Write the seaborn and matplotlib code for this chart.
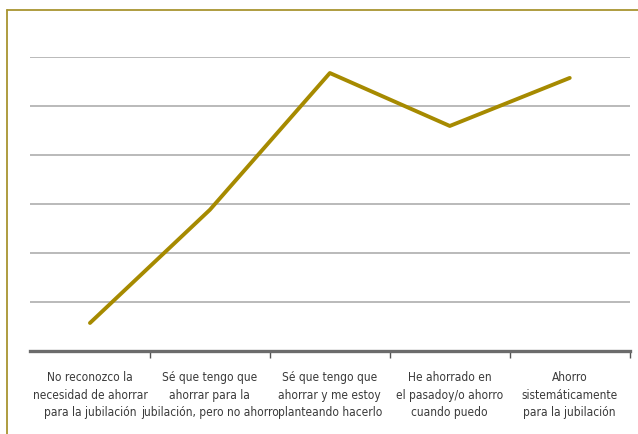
import matplotlib
matplotlib.use("Agg")
import matplotlib.pyplot as plt
from matplotlib.lines import Line2D
import seaborn as sns

# Datos
categorias = [
    "No reconozco la\nnecesidad de ahorrar\npara la jubilación",
    "Sé que tengo que\nahorrar para la\njubilación, pero no ahorro",
    "Sé que tengo que\nahorrar y me estoy\nplanteando hacerlo",
    "He ahorrado en\nel pasadoy/o ahorro\ncuando puedo",
    "Ahorro\nsistemáticamente\npara la jubilación",
]
valores = [0.57, 2.88, 5.67, 4.59, 5.57]
grid_y = [1, 2, 3, 4, 5, 6]

COLOR_LINEA = "#A68A00"
COLOR_MARCO = "#A89430"

sns.set_style("white")
plt.rcParams["font.family"] = ["DejaVu Sans"]

fig = plt.figure(figsize=(6.38, 4.35), dpi=100)
ax = fig.add_axes([0.047, 0.191, 0.94, 0.676])

for g in grid_y:
    ax.axhline(g, color="#B4B4B4", linewidth=1.3, zorder=1)

x_idx = list(range(len(categorias)))
sns.lineplot(x=x_idx, y=valores, color=COLOR_LINEA, linewidth=2.8, ax=ax, zorder=3)

ax.set_xlim(-0.5, 4.5)
ax.set_ylim(0, 6)
ax.set_yticks([])
ax.set_xticks(x_idx)
ax.set_xticklabels(categorias, fontsize=8.6, color="#3A3A3A", linespacing=1.45,
                   fontstretch="condensed")
ax.tick_params(axis="x", which="major", length=0, pad=14)
ax.set_xticks([0.5, 1.5, 2.5, 3.5, 4.5], minor=True)
ax.tick_params(axis="x", which="minor", bottom=True, length=5, width=1,
               color="#555555", direction="out")

for s in ["top", "right", "left"]:
    ax.spines[s].set_visible(False)
ax.spines["bottom"].set_color("#6B6B6B")
ax.spines["bottom"].set_linewidth(2.4)

# Marco de la figura (solo borde izquierdo y superior visibles)
fig.add_artist(Line2D([0.011, 0.011], [0.0, 0.975], color=COLOR_MARCO, linewidth=1.3,
                      transform=fig.transFigure))
fig.add_artist(Line2D([0.011, 1.0], [0.975, 0.975], color=COLOR_MARCO, linewidth=1.3,
                      transform=fig.transFigure))

fig.savefig("out.png", dpi=100)
